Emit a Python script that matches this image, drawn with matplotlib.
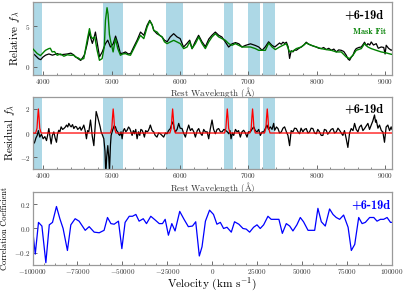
import matplotlib
matplotlib.use("Agg")
import matplotlib.pyplot as plt
from matplotlib.ticker import AutoMinorLocator, MultipleLocator, FuncFormatter

# ---------------- data ----------------
mask_regions = [(3800, 3985), (4870, 5165), (5800, 6040), (6635, 6780), (6990, 7175), (7220, 7385)]

wave_obs = [3840, 3870, 3900, 3930, 3960, 3990, 4030, 4080, 4130, 4170, 4200, 4250, 4300, 4350, 4400,
            4440, 4470, 4510, 4545, 4570, 4600, 4640, 4670, 4690, 4715, 4740, 4760, 4785, 4820, 4860,
            4905, 4940, 4980, 5020, 5055, 5090, 5125, 5160, 5200, 5240, 5275, 5320, 5370, 5420, 5470,
            5515, 5555, 5590, 5615, 5660, 5700, 5735, 5770, 5810, 5855, 5905, 5955, 6000, 6050, 6100,
            6140, 6175, 6220, 6270, 6320, 6370, 6420, 6465, 6515, 6565, 6610, 6660, 6710, 6760, 6810,
            6860, 6905, 6955, 7030, 7100, 7150, 7200, 7245, 7295, 7345, 7385, 7420, 7455, 7480, 7505,
            7530, 7555, 7580, 7602, 7625, 7651, 7675, 7700, 7740, 7773, 7810, 7846, 7880, 7919, 7955,
            7992, 8030, 8065, 8100, 8138, 8175, 8212, 8250, 8285, 8320, 8358, 8395, 8431, 8455, 8480,
            8505, 8529, 8555, 8577, 8615, 8651, 8680, 8699, 8725, 8748, 8775, 8797, 8830, 8870, 8900,
            8943, 8980, 9000, 9016, 9050, 9090, 9100]
flux_obs = [1.65, 1.5, 1.25, 1.0, 0.9, 1.2, 1.45, 1.6, 1.45, 1.55, 1.65, 1.5, 1.55, 1.6, 1.7,
            1.5, 1.25, 1.0, 0.8, 1.1, 1.5, 2.85, 4.3, 3.6, 2.9, 3.6, 4.3, 3.0, 1.25, 1.85,
            2.85, 3.3, 2.45, 2.85, 3.8, 2.85, 1.65, 1.7, 1.85, 1.6, 1.65, 2.45, 3.3, 4.3, 3.9,
            5.1, 5.75, 5.2, 4.5, 4.1, 3.9, 3.7, 3.3, 3.1, 3.7, 4.1, 3.7, 3.5, 2.45, 2.9,
            3.3, 2.25, 3.1, 3.9, 3.1, 2.5, 3.45, 3.9, 4.3, 3.9, 3.7, 3.1, 2.45, 2.85, 3.0,
            2.85, 2.46, 2.65, 2.85, 2.65, 2.46, 2.05, 2.46, 3.1, 2.65, 2.46, 2.7, 2.95, 2.8, 3.05,
            2.9, 3.05, 2.5, 1.05, 2.0, 1.85, 2.1, 2.05, 2.3, 2.46, 2.7, 3.05, 2.8, 2.67, 2.55,
            2.46, 2.3, 2.26, 2.4, 2.14, 2.3, 2.05, 2.2, 1.85, 2.1, 2.05, 1.9, 1.45, 1.0, 0.82,
            1.2, 1.44, 2.0, 2.26, 2.4, 2.46, 2.8, 3.05, 2.6, 2.87, 2.7, 3.08, 2.7, 2.87, 2.3,
            2.46, 2.4, 1.6, 2.67, 2.3, 2.05, 2.1]

wave_fit = [3840, 3870, 3908, 3956, 4000, 4029, 4078, 4100, 4127, 4160, 4200, 4250, 4298, 4350, 4395,
            4440, 4468, 4510, 4541, 4590, 4639, 4673, 4695, 4712, 4730, 4751, 4785, 4819, 4858, 4890,
            4907, 4930, 4945, 4965, 4980, 5019, 5053, 5087, 5126, 5160, 5199, 5240, 5273, 5322, 5370,
            5419, 5468, 5517, 5556, 5590, 5614, 5661, 5700, 5735, 5770, 5808, 5857, 5906, 5954, 6003,
            6052, 6101, 6140, 6174, 6223, 6272, 6321, 6369, 6418, 6467, 6516, 6564, 6613, 6662, 6711,
            6760, 6808, 6857, 6906, 6955, 7028, 7101, 7150, 7198, 7247, 7296, 7345, 7393, 7456, 7505,
            7554, 7602, 7651, 7700, 7773, 7846, 7919, 7992, 8065, 8138, 8212, 8285, 8358, 8431, 8480,
            8529, 8577, 8651, 8699, 8748, 8797, 8870, 8943, 9016, 9090, 9100]
flux_fit = [2.26, 2.0, 1.65, 1.4, 1.8, 2.05, 2.26, 2.3, 1.85, 1.9, 1.44, 1.6, 1.32, 1.5, 1.44,
            1.45, 1.23, 1.1, 0.91, 1.03, 3.28, 4.72, 3.8, 3.49, 3.6, 3.7, 2.05, 0.82, 1.03, 2.5,
            5.74, 7.3, 6.5, 4.0, 3.28, 1.85, 3.49, 2.26, 1.44, 1.6, 1.64, 1.5, 1.44, 2.26, 3.08,
            3.9, 3.49, 4.92, 5.66, 5.2, 4.5, 4.31, 3.9, 3.7, 3.1, 2.87, 3.08, 3.28, 3.08, 2.87,
            2.26, 2.46, 3.08, 2.26, 2.87, 3.7, 2.87, 2.26, 3.08, 3.7, 4.1, 3.7, 3.49, 3.28, 2.87,
            2.67, 2.87, 2.67, 2.46, 2.46, 2.46, 2.26, 2.05, 2.05, 2.05, 2.95, 2.46, 2.14, 2.46, 2.67,
            2.87, 1.85, 1.95, 2.26, 2.46, 2.95, 2.67, 2.46, 2.26, 2.14, 2.05, 1.85, 1.85, 1.23, 1.03,
            1.44, 2.05, 2.26, 2.87, 2.46, 2.26, 2.05, 1.85, 1.73, 1.56, 1.55]

wave_res = [3835, 3870, 3890, 3908, 3925, 3946, 3970, 3995, 4020, 4044, 4060, 4078, 4095, 4112, 4130,
            4151, 4170, 4190, 4205, 4224, 4240, 4258, 4280, 4298, 4320, 4337, 4355, 4371, 4390, 4405,
            4425, 4444, 4465, 4483, 4500, 4517, 4535, 4551, 4570, 4590, 4610, 4629, 4645, 4663, 4688,
            4700, 4712, 4737, 4755, 4771, 4790, 4810, 4830, 4844, 4865, 4883, 4900, 4912, 4925, 4941,
            4955, 4966, 4980, 4990, 5019, 5035, 5053, 5070, 5087, 5100, 5117, 5135, 5151, 5168, 5185,
            5205, 5224, 5245, 5263, 5280, 5297, 5315, 5331, 5350, 5370, 5390, 5409, 5425, 5443, 5460,
            5477, 5495, 5517, 5535, 5556, 5564, 5590, 5613, 5635, 5661, 5685, 5710, 5735, 5759, 5785,
            5808, 5830, 5857, 5875, 5896, 5912, 5930, 5955, 5979, 6000, 6028, 6050, 6077, 6100, 6125,
            6150, 6174, 6200, 6223, 6250, 6272, 6295, 6321, 6345, 6369, 6395, 6418, 6440, 6467, 6490,
            6516, 6540, 6564, 6590, 6613, 6640, 6662, 6690, 6711, 6730, 6745, 6765, 6784, 6810, 6833,
            6855, 6881, 6905, 6930, 6955, 6979, 7000, 7028, 7050, 7077, 7100, 7125, 7150, 7174, 7200,
            7223, 7250, 7271, 7295, 7320, 7345, 7369, 7383, 7410, 7432, 7455, 7481, 7505, 7529, 7555,
            7578, 7602, 7625, 7651, 7675, 7700, 7725, 7748, 7770, 7797, 7820, 7846, 7870, 7894, 7918,
            7943, 7968, 7992, 8015, 8040, 8065, 8089, 8112, 8138, 8160, 8187, 8210, 8236, 8260, 8285,
            8310, 8333, 8358, 8382, 8405, 8431, 8455, 8480, 8504, 8530, 8553, 8577, 8602, 8625, 8651,
            8675, 8699, 8725, 8748, 8772, 8797, 8820, 8845, 8860, 8870, 8895, 8918, 8945, 8967, 8991,
            9015, 9040, 9065, 9089, 9100]
resid = [-1.05, -0.77, -0.4, -0.2, 0.2, -0.34, -0.1, -0.48, -0.3, -0.63, -0.2, 0.37, -0.3, -0.91, -0.2,
         0.09, -0.4, -0.77, -0.1, 0.23, 0.1, 0.51, 0.3, 0.37, 0.5, 0.66, 0.5, 0.8, 0.6, 0.51,
         0.7, 0.37, 0.55, 0.51, 0.3, 0.37, 0.5, 0.23, 0.4, 0.66, 0.2, -0.48, 0.2, 0.09, 1.08,
         0.5, -0.2, -1.05, 0.5, 1.79, 1.4, 0.94, 0.5, 0.09, -0.2, -0.48, -1.5, -3.5, -2.0, -1.05,
         -2.0, -3.2, -1.0, -0.2, 0.37, 0.6, 0.51, 0.2, 0.09, -0.1, -0.2, 0.1, -0.48, 0.2, 0.37,
         0.1, 0.23, 0.5, 0.37, 0.1, -0.2, 0.2, -0.06, 0.3, -0.48, 0.1, -0.2, 0.3, 0.23, 0.0,
         -0.34, 0.2, 0.09, 0.2, 0.51, 0.66, 0.2, 0.09, -0.2, -0.34, 0.0, -0.06, -0.2, -0.34, 0.0,
         -0.06, 0.2, 0.37, 0.7, 0.94, 0.4, 0.09, 0.3, 0.8, 0.4, 0.37, 0.0, -0.34, 0.2, 0.66,
         0.2, 0.37, 0.1, -0.34, 0.2, 0.37, 0.0, -0.2, 0.3, 0.09, 0.1, -0.48, 0.3, 1.08, 0.3,
         -0.06, 0.3, 0.37, 0.1, 0.09, 0.3, 0.23, 0.1, -0.06, 0.2, -0.48, 0.0, -0.2, 0.3, 0.09,
         0.2, -0.34, 0.1, 0.23, 0.0, -0.34, 0.1, 0.09, 0.3, 0.51, 0.2, 0.09, 0.3, -0.2, 0.1,
         0.09, 0.4, 0.66, 0.3, 0.51, 0.3, 0.8, 0.23, 0.5, 0.37, 0.0, 0.09, 0.4, 0.51, 0.1,
         -0.2, -1.05, 0.2, 0.09, 0.4, 0.37, 0.1, -0.06, 0.4, 0.09, 0.3, 0.37, 0.0, 0.09, 0.4,
         0.37, 0.0, -0.06, 0.3, 0.09, -0.2, -0.2, 0.3, 0.23, -0.1, 0.09, 0.3, 0.37, 0.0, 0.09,
         0.4, 0.23, 0.0, -0.2, 0.2, -0.48, -1.2, 0.0, 0.37, 0.2, 0.8, 0.3, 0.09, 0.5, 0.66,
         0.2, 0.37, 0.6, 0.8, 0.3, 0.66, 1.0, 1.5, 0.9, 1.08, 0.4, 0.66, 0.2, 0.09, -0.77,
         0.5, 0.66, 0.2, 0.51, 0.3]

wave_model = [3800, 3885, 3905, 3915, 3925, 3935, 3945, 3965,
              4980, 5000, 5010, 5020, 5030, 5040, 5060,
              5850, 5870, 5880, 5890, 5900, 5910, 5930,
              6650, 6670, 6680, 6690, 6700, 6710, 6730,
              7020, 7040, 7050, 7060, 7070, 7080, 7100,
              7235, 7255, 7265, 7275, 7285, 7295, 7315, 9150]
model = [0, 0, 0.4, 1.3, 2.0, 1.3, 0.4, 0,
         0, 0.4, 1.3, 2.0, 1.3, 0.4, 0,
         0, 0.4, 1.3, 2.0, 1.3, 0.4, 0,
         0, 0.4, 1.3, 2.0, 1.3, 0.4, 0,
         0, 0.4, 1.3, 2.0, 1.3, 0.4, 0,
         0, 0.4, 1.3, 2.0, 1.3, 0.4, 0, 0]

velocity = [-99800, -98500, -96700, -94800, -92600, -90700, -88900, -86700, -84800, -83000,
            -80600, -78700, -76300, -74100, -70700, -68500, -65700, -62900, -60200, -58300,
            -56400, -54600, -52200, -50300, -48500, -46200, -44400, -42500, -40700, -38400,
            -36600, -34200, -31800, -29500, -27700, -26200, -24400, -22500, -20700, -18100,
            -15700, -13300, -11000, -9200, -7200, -5700, -3800, -1500, 700, 2600,
            4500, 6300, 8200, 10600, 12400, 14800, 17100, 18900, 20800, 23000,
            24900, 26700, 28600, 31000, 32800, 34700, 37100, 39000, 41200, 43100,
            44900, 47100, 49000, 50800, 53300, 57000, 58800, 60700, 62900, 65300,
            67200, 69000, 70900, 73100, 75600, 77400, 79300, 81500, 83400, 85200,
            87600, 89900, 91700, 93600, 95400, 97300, 99200, 100000]
corr = [-0.03, -0.21, 0.05, 0.02, -0.28, 0.03, 0.05, 0.18, 0.08, 0.0,
        -0.18, 0.03, 0.08, 0.06, -0.015, 0.015, -0.03, -0.035, -0.015, 0.09,
        0.04, 0.035, 0.06, -0.165, 0.05, 0.1, 0.1, 0.115, 0.06, 0.08,
        0.04, 0.1, 0.07, 0.04, 0.04, 0.075, -0.055, 0.04, -0.02, 0.14,
        0.075, 0.015, 0.02, 0.055, -0.225, -0.15, 0.06, 0.15, 0.115, 0.035,
        0.05, 0.0, 0.01, -0.03, 0.055, 0.035, 0.0, -0.005, -0.03, 0.01,
        0.03, 0.0, 0.03, 0.1, 0.075, 0.075, 0.075, -0.04, 0.04, 0.02,
        -0.02, 0.03, 0.09, 0.055, -0.015, -0.015, 0.165, 0.055, 0.02, 0.16,
        0.115, 0.09, 0.075, 0.11, 0.01, -0.18, -0.13, 0.09, 0.04, 0.05,
        0.09, 0.09, 0.06, 0.075, 0.075, 0.09, 0.05, 0.05]

phase_label = "+6-19d"

# ---------------- style ----------------
plt.rcParams['font.family'] = 'serif'
plt.rcParams['font.serif'] = ['cmr10']
plt.rcParams['mathtext.fontset'] = 'cm'
plt.rcParams['axes.formatter.use_mathtext'] = True

spine_col = '#9a9a9a'

fig = plt.figure(figsize=(4.07, 2.92), dpi=100)
L, R = 0.080, 0.963
ax1 = fig.add_axes([L, 0.743, R - L, 0.250])
ax2 = fig.add_axes([L, 0.421, R - L, 0.247])
ax3 = fig.add_axes([L, 0.092, R - L, 0.251])
for a in (ax1, ax2, ax3):
    a.patch.set_alpha(0)

def style(ax):
    for s in ax.spines.values():
        s.set_color(spine_col)
        s.set_linewidth(0.9)
    ax.tick_params(which='both', direction='in', color='#555555', labelsize=5.2, pad=1.5,
                   labelcolor='#333333')
    ax.tick_params(which='major', length=3, width=0.6)
    ax.tick_params(which='minor', length=1.6, width=0.5)

def intfmt(v, pos):
    return r"$%d$" % int(round(v))

def decfmt(v, pos):
    return r"$%.1f$" % v

for ax, ly in ((ax1, -0.285), (ax2, -0.30)):
    for lo, hi in mask_regions:
        ax.axvspan(lo, hi, color='lightblue', lw=0, zorder=0)
    ax.set_xlim(3840, 9100)
    ax.xaxis.set_major_locator(MultipleLocator(1000))
    ax.xaxis.set_minor_locator(AutoMinorLocator(5))
    ax.xaxis.set_major_formatter(FuncFormatter(intfmt))
    ax.yaxis.set_major_formatter(FuncFormatter(intfmt))
    style(ax)
    ax.set_xlabel(r'Rest Wavelength ($\mathrm{\AA}$)', fontsize=6.5, color='#333333')
    ax.xaxis.label.set_va('baseline')
    ax.xaxis.set_label_coords(0.5, ly)

ax1.plot(wave_obs, flux_obs, color='black', lw=0.9, zorder=2)
ax1.plot(wave_fit, flux_fit, color='green', lw=1.0, zorder=3)
ax1.set_ylim(-1, 8)
ax1.yaxis.set_major_locator(MultipleLocator(5))
ax1.set_ylabel(r'Relative $f_\lambda$', fontsize=8, labelpad=2)
ax1.text(0.975, 0.82, phase_label, transform=ax1.transAxes, ha='right', va='center',
         fontsize=9, family='cmb10', color='black')
ax1.text(0.985, 0.59, 'Mask Fit', transform=ax1.transAxes, ha='right', va='center',
         fontsize=6, family='cmb10', color='green')

ax2.plot(wave_res, resid, color='black', lw=0.9, zorder=2)
ax2.plot(wave_model, model, color='red', lw=0.9, zorder=3)
ax2.set_ylim(-3, 3)
ax2.yaxis.set_major_locator(MultipleLocator(2))
ax2.set_ylabel(r'Residual $f_\lambda$', fontsize=8, labelpad=2)
ax2.text(0.975, 0.83, phase_label, transform=ax2.transAxes, ha='right', va='center',
         fontsize=9, family='cmb10', color='black')

ax3.plot(velocity, corr, color='blue', lw=0.9)
ax3.set_xlim(-100000, 100000)
ax3.set_ylim(-0.3, 0.3)
ax3.xaxis.set_major_locator(MultipleLocator(25000))
ax3.xaxis.set_minor_locator(AutoMinorLocator(4))
ax3.xaxis.set_major_formatter(FuncFormatter(intfmt))
ax3.yaxis.set_major_locator(MultipleLocator(0.2))
ax3.yaxis.set_major_formatter(FuncFormatter(decfmt))
style(ax3)
ax3.set_xlabel(r'Velocity (km s$^{-1}$)', fontsize=8.2)
ax3.xaxis.label.set_va('baseline')
ax3.xaxis.set_label_coords(0.5, -0.30)
ax3.set_ylabel('Correlation Coefficient', fontsize=6, labelpad=4)
ax3.text(0.995, 0.82, phase_label, transform=ax3.transAxes, ha='right', va='center',
         fontsize=9, family='cmb10', color='blue')

fig.savefig('out.png', dpi=100)
